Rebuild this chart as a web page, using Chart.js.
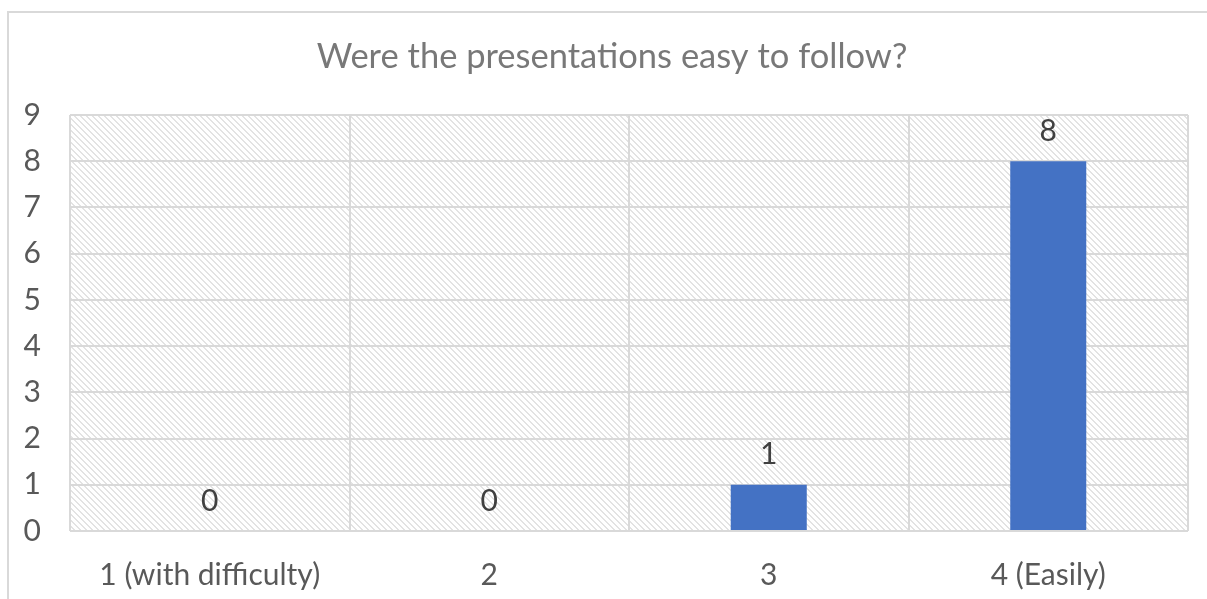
<!DOCTYPE html>
<html>
<head>
<meta charset="utf-8">
<script src="https://cdn.jsdelivr.net/npm/chart.js@4"></script>
<style>
  html, body { margin: 0; padding: 0; background: #fff; overflow: hidden; }
  #frame { position: absolute; left: 7px; top: 11px; width: 1400px; height: 800px; border: 2px solid #d9d9d9; box-sizing: border-box; }
  #wrap { position: absolute; left: 0; top: 0; width: 1207px; height: 599px; }
</style>
</head>
<body>
<div id="frame"></div>
<div id="wrap"><canvas id="c" width="1207" height="599"></canvas></div>
<script>
const titleText = "Were the presentations easy to follow?";
const categories = ["1 (with difficulty)", "2", "3", "4 (Easily)"];
const responses = [0, 0, 1, 8];
const yTicks = [0, 1, 2, 3, 4, 5, 6, 7, 8, 9];

const FONT = "Lato, 'Open Sans', sans-serif";

function makePattern(ctx) {
  const n = 6;
  const t = document.createElement('canvas');
  t.width = n; t.height = n;
  const g = t.getContext('2d');
  g.fillStyle = '#ffffff';
  g.fillRect(0, 0, n, n);
  g.fillStyle = '#e3e3e3';
  for (let i = 0; i < n; i++) {
    g.fillRect(i, i, 1, 1);
    g.fillRect((i + 1) % n, i, 1, 1);
  }
  return ctx.createPattern(t, 'repeat');
}

const hatchPlugin = {
  id: 'hatch',
  beforeDraw(chart) {
    const { ctx, chartArea: a } = chart;
    ctx.save();
    ctx.fillStyle = makePattern(ctx);
    ctx.fillRect(a.left, a.top, a.right - a.left, a.bottom - a.top);
    ctx.restore();
  }
};

const titlePlugin = {
  id: 'chartTitle',
  afterDraw(chart) {
    const { ctx } = chart;
    ctx.save();
    ctx.font = "34.5px " + FONT;
    ctx.fillStyle = '#787878';
    ctx.textAlign = 'center';
    ctx.textBaseline = 'middle';
    ctx.fillText(titleText, 612, 57);
    ctx.restore();
  }
};

const labelPlugin = {
  id: 'valueLabels',
  afterDatasetsDraw(chart) {
    const { ctx } = chart;
    const meta = chart.getDatasetMeta(0);
    ctx.save();
    ctx.font = "30px " + FONT;
    ctx.fillStyle = '#404040';
    ctx.textAlign = 'center';
    ctx.textBaseline = 'middle';
    meta.data.forEach((bar, i) => {
      ctx.fillText(String(chart.data.datasets[0].data[i]), bar.x, bar.y - 30);
    });
    ctx.restore();
  }
};

new Chart(document.getElementById('c'), {
  type: 'bar',
  data: {
    labels: categories,
    datasets: [{
      data: responses,
      backgroundColor: '#4472C4',
      borderWidth: 0,
      categoryPercentage: 1,
      barPercentage: 0.272
    }]
  },
  options: {
    responsive: false,
    animation: false,
    devicePixelRatio: 1,
    layout: { padding: { left: 0, right: 19, top: 115, bottom: 0 } },
    plugins: {
      legend: { display: false },
      tooltip: { enabled: false },
      title: { display: false }
    },
    scales: {
      x: {
        grid: { color: '#d9d9d9', lineWidth: 2, offset: true, drawTicks: false },
        border: { display: false },
        ticks: { color: '#595959', font: { family: FONT, size: 30 }, padding: 26, maxRotation: 0 },
        afterFit(s) { s.height = 68; }
      },
      y: {
        min: 0, max: 9,
        afterBuildTicks(s) { s.ticks = yTicks.map(v => ({ value: v })); },
        grid: { color: '#d9d9d9', lineWidth: 2, drawTicks: false },
        border: { display: false },
        ticks: { color: '#595959', font: { family: FONT, size: 30 }, padding: 29 },
        afterFit(s) { s.width = 70; }
      }
    }
  },
  plugins: [hatchPlugin, labelPlugin, titlePlugin]
});
</script>
</body>
</html>
